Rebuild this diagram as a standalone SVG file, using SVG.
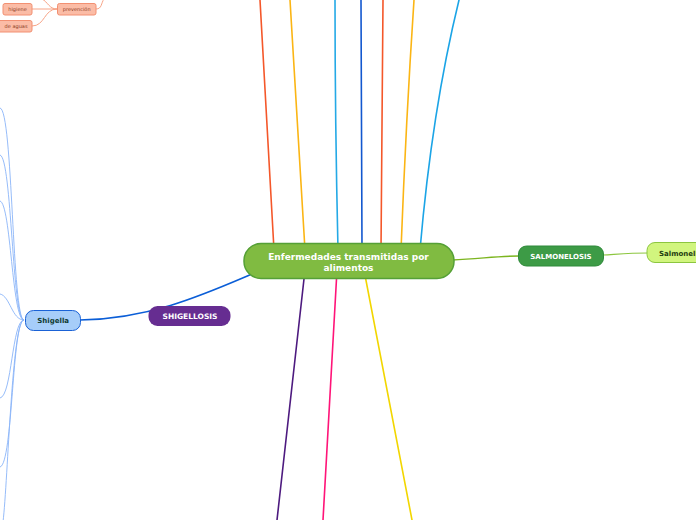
<svg xmlns="http://www.w3.org/2000/svg" width="696" height="520" viewBox="0 0 696 520">
<style>
.c{fill:none;stroke-linecap:round}
.t{font-family:"DejaVu Sans",Verdana,sans-serif;font-weight:bold;text-anchor:middle}
.sm{font-family:"DejaVu Sans",Verdana,sans-serif;font-size:5px;fill:#8a3a22;text-anchor:middle}
.fan{fill:none;stroke:#8ab4f8;stroke-width:0.9}
.pv{fill:none;stroke:#f7a487;stroke-width:1}
.pn{fill:#fbbca6;stroke:#f29072;stroke-width:1}
</style>
<rect width="696" height="520" fill="#ffffff"/>
<g id="connectors">
  <path class="c" d="M274,250 L260,0" stroke="#f4572a" stroke-width="1.6"/>
  <path class="c" d="M305,250 L290,0" stroke="#fbb514" stroke-width="1.6"/>
  <path class="c" d="M338,250 Q335,120 335,0" stroke="#24a9e6" stroke-width="1.6"/>
  <path class="c" d="M362,250 L361,0" stroke="#1257cf" stroke-width="1.6"/>
  <path class="c" d="M381,250 Q382,120 383,0" stroke="#f4572a" stroke-width="1.6"/>
  <path class="c" d="M401,250 Q406,120 414,0" stroke="#fbb514" stroke-width="1.6"/>
  <path class="c" d="M420,250 Q432,110 459,0" stroke="#1ba4e6" stroke-width="1.6"/>
  <path class="c" d="M305,270 L277,520" stroke="#4d1a7f" stroke-width="1.6"/>
  <path class="c" d="M337,270 L323,520" stroke="#ff1478" stroke-width="1.6"/>
  <path class="c" d="M364,270 L412,520" stroke="#f2d600" stroke-width="1.6"/>
  <path class="c" d="M452,260 C480,259 495,256 519,256" stroke="#7cb51f" stroke-width="1.5"/>
  <path class="c" d="M603,255 C620,254 630,253 648,253" stroke="#8cc63f" stroke-width="1.2"/>
  <path class="c" d="M252,274 C205,294 150,319 80,320" stroke="#0b5ed7" stroke-width="1.6"/>
  <path class="fan" d="M24,320 C12,320 13,110 0,108"/>
  <path class="fan" d="M24,320 C12,320 12,158 0,155"/>
  <path class="fan" d="M24,320 C12,320 11,204 0,201"/>
  <path class="fan" d="M24,320 C12,320 10,296 0,294"/>
  <path class="fan" d="M24,320 C12,320 12,396 0,398"/>
  <path class="fan" d="M24,320 C12,320 13,464 0,467"/>
  <path class="fan" d="M24,320 C12,320 8,480 3,522"/>
  <path class="pv" d="M32,9 L57,9"/>
  <path class="pv" d="M32,26 C45,26 44,9 57,9"/>
  <path class="pv" d="M57,9 C49,9 48,2 42,-1"/>
  <path class="pv" d="M96,9 C102,9 101,3 104,-1"/>
</g>
<g id="central">
  <rect x="244" y="243.5" width="210" height="35" rx="17" fill="#80bb41" stroke="#55a036" stroke-width="1.5"/>
  <text class="t" x="348.5" y="259.5" font-size="9" fill="#ffffff">Enfermedades transmitidas por</text>
  <text class="t" x="348.5" y="270.5" font-size="9" fill="#ffffff">alimentos</text>
</g>
<g id="salmonelosis">
  <rect x="518.5" y="246" width="85" height="20" rx="8" fill="#3d9b46" stroke="#2f8a3a" stroke-width="1"/>
  <text class="t" x="561" y="258.7" font-size="7" fill="#ffffff">SALMONELOSIS</text>
</g>
<g id="salmonella">
  <rect x="647" y="242.5" width="70" height="20" rx="8" fill="#d1f57e" stroke="#8cc63f" stroke-width="1"/>
  <text x="659" y="255.5" font-family="DejaVu Sans,Verdana,sans-serif" font-weight="bold" font-size="7" fill="#1f3d10">Salmonella</text>
</g>
<g id="shigellosis">
  <rect x="148.5" y="306" width="82" height="20" rx="9" fill="#662d91"/>
  <text class="t" x="190" y="319" font-size="7.5" fill="#ffffff">SHIGELLOSIS</text>
</g>
<g id="shigella">
  <rect x="25.5" y="310.5" width="55" height="20" rx="8" fill="#a6cdf9" stroke="#1a62d6" stroke-width="1"/>
  <text class="t" x="53.2" y="323.3" font-size="7" fill="#0f3b32">Shigella</text>
</g>
<g id="higiene">
  <rect class="pn" x="3" y="3.5" width="29" height="11.5" rx="2"/>
  <text class="sm" x="17.5" y="11">higiene</text>
</g>
<g id="prevencion">
  <rect class="pn" x="57.5" y="3.5" width="38.5" height="11.5" rx="2"/>
  <text class="sm" x="76.7" y="11">prevención</text>
</g>
<g id="aguas">
  <rect class="pn" x="-10" y="20.5" width="42" height="11.5" rx="2"/>
  <text class="sm" x="27.5" y="28" style="text-anchor:end">de aguas</text>
</g>
</svg>
